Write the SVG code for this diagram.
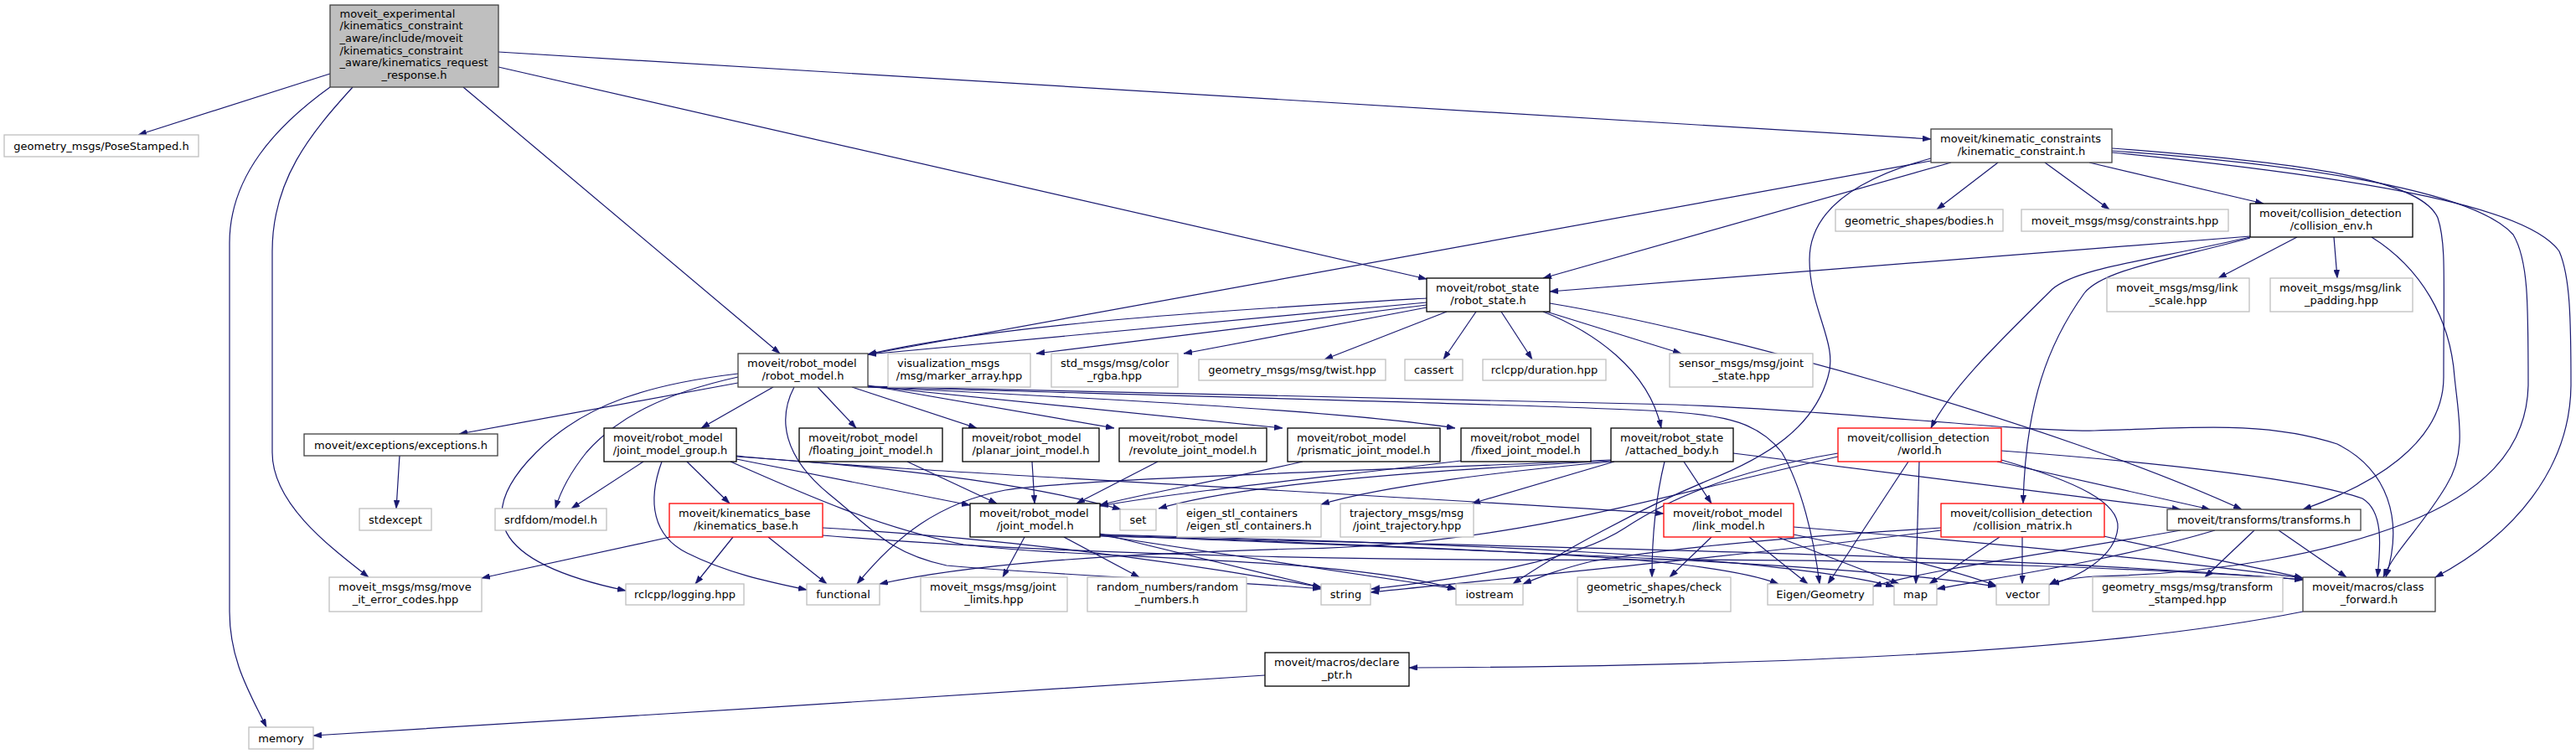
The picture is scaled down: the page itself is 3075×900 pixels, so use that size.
<svg xmlns="http://www.w3.org/2000/svg" width="3075" height="900" viewBox="0 0 3075 900">
<style>
.n rect{fill:#fff;stroke:#000;stroke-width:1.3}
.n.g rect{stroke:#bfbfbf}
.n.r rect{stroke:#ff0000}
.n.d rect{stroke:#404040}
.n.m rect{fill:#bfbfbf;stroke:#404040}
text{font-family:"DejaVu Sans","Noto Sans",sans-serif;font-size:13px;fill:#000}
.c{text-anchor:middle}
#edges path{fill:none;stroke:#191970;stroke-width:1.2;marker-end:url(#a)}
</style>
<defs>
<marker id="a" markerUnits="userSpaceOnUse" markerWidth="10" markerHeight="7" refX="10" refY="3.5" orient="auto"><path d="M0,0 L10,3.5 L0,7 z" fill="#191970" stroke="#191970" stroke-width="0.5"/></marker>
</defs>
<rect width="3075" height="900" fill="#fff"/>
<g id="edges">
<path d="M394,88 L165,161"/>
<path d="M394,104 C330,150 274,210 274,290 L274,730 C274,790 300,830 318,868"/>
<path d="M421,104 C370,160 325,215 325,300 L325,540 C325,600 390,650 440,689"/>
<path d="M553,104 L931,422"/>
<path d="M595,80 L1703,333"/>
<path d="M595,62 L2305,166"/>
<path d="M2385,194 L2312,250"/>
<path d="M2441,194 L2518,250"/>
<path d="M2494,194 L2702,243"/>
<path d="M2305,192 L1036,423"/>
<path d="M2329,194 L1842,332"/>
<path d="M2305,189 C2220,212 2160,250 2160,310 C2160,370 2195,410 2182,450 C2165,510 2110,545 2040,573 C1960,606 1860,660 1806,697"/>
<path d="M2521,177 C2760,195 2890,215 2910,260 C2920,290 2917,330 2917,450 C2917,530 2830,580 2749,608"/>
<path d="M2521,182 C2850,215 3020,250 3055,300 C3068,330 3069,380 3069,460 C3068,560 3000,640 2907,689"/>
<path d="M2521,180 C2800,200 2960,235 3000,280 C3018,310 3018,360 3018,460 C3016,540 2960,590 2870,625 C2780,660 2650,685 2500,688 C2470,690 2455,693 2446,698"/>
<path d="M2686,282 L1850,348"/>
<path d="M2742,283 L2648,332"/>
<path d="M2786,283 L2790,332"/>
<path d="M2686,283 C2560,312 2480,320 2450,345 C2400,395 2330,460 2305,511"/>
<path d="M2686,284 C2590,310 2510,322 2488,350 C2445,410 2418,480 2415,601"/>
<path d="M2831,283 C2890,320 2925,380 2930,450 C2935,500 2945,540 2920,580 C2890,630 2860,655 2845,689"/>
<path d="M1703,356 C1500,368 1200,385 1036,423"/>
<path d="M1703,361 L1036,423"/>
<path d="M1703,364 L1237,422"/>
<path d="M1703,367 L1413,422"/>
<path d="M1727,372 L1581,429"/>
<path d="M1762,372 L1723,429"/>
<path d="M1792,372 L1829,429"/>
<path d="M1842,372 C1900,395 1968,440 1983,511"/>
<path d="M1846,372 L2007,422"/>
<path d="M1850,362 C2050,395 2450,505 2676,608"/>
<path d="M881,457 L548,518"/>
<path d="M477,544 L473,607"/>
<path d="M881,446 C780,458 700,480 640,540 C570,610 580,670 747,705"/>
<path d="M881,450 C790,470 735,500 700,540 C680,565 668,590 663,607"/>
<path d="M923,462 L837,511"/>
<path d="M976,462 L1022,511"/>
<path d="M1017,462 L1166,511"/>
<path d="M1036,460 L1330,511"/>
<path d="M1036,461 L1531,511"/>
<path d="M1036,462 C1300,475 1600,490 1737,511"/>
<path d="M1036,461 C1400,470 1800,478 2000,483 C2200,490 2400,515 2500,514 C2600,512 2700,500 2790,530 C2850,560 2870,620 2848,689"/>
<path d="M1036,462 C1500,475 1900,485 2000,492 C2060,496 2100,505 2127,540 C2150,580 2165,640 2172,697"/>
<path d="M948,462 C928,500 935,545 990,590 C1040,630 1060,660 1130,675 C1300,690 1500,695 1577,703"/>
<path d="M768,551 L682,607"/>
<path d="M790,551 C772,600 780,640 820,660 C870,685 920,695 963,704"/>
<path d="M820,551 L871,601"/>
<path d="M879,548 L1158,603"/>
<path d="M879,545 C1000,553 1200,570 1338,608"/>
<path d="M879,544 C1000,558 1500,582 1986,613"/>
<path d="M872,551 C960,590 1050,630 1150,650 C1300,668 1600,664 1738,703"/>
<path d="M1083,551 L1190,601"/>
<path d="M1232,551 L1235,601"/>
<path d="M1382,551 L1285,601"/>
<path d="M1555,551 C1450,575 1360,590 1313,603"/>
<path d="M1744,550 C1600,568 1420,585 1313,604"/>
<path d="M875,641 L830,697"/>
<path d="M917,641 L987,697"/>
<path d="M800,641 L575,690"/>
<path d="M982,630 C1150,640 1350,660 1577,701"/>
<path d="M982,639 C1300,665 1700,670 2000,668 C2300,668 2600,680 2749,692"/>
<path d="M1223,641 L1197,689"/>
<path d="M1270,641 L1360,689"/>
<path d="M1313,637 L1577,701"/>
<path d="M1313,639 L1738,703"/>
<path d="M1313,638 C1600,650 1900,660 2000,673 C2060,680 2100,688 2123,697"/>
<path d="M1313,638 C1700,648 2100,660 2261,700"/>
<path d="M1313,639 C1700,655 2200,670 2383,700"/>
<path d="M1313,640 C1800,652 2400,662 2749,692"/>
<path d="M1923,549 C1700,560 1300,570 1200,585 C1120,600 1070,640 1023,697"/>
<path d="M1923,550 C1700,562 1480,578 1383,607"/>
<path d="M1923,551 C1800,562 1650,580 1577,602"/>
<path d="M1927,551 L1757,601"/>
<path d="M2010,551 L2043,601"/>
<path d="M1987,551 C1975,600 1972,650 1972,689"/>
<path d="M2069,541 L2603,608"/>
<path d="M2278,551 L2182,697"/>
<path d="M2291,551 L2287,697"/>
<path d="M2389,549 C2480,575 2530,600 2528,630 C2525,665 2480,690 2448,697"/>
<path d="M2384,551 L2638,608"/>
<path d="M2389,538 C2550,550 2750,570 2820,595 C2845,610 2842,650 2838,689"/>
<path d="M2194,541 C2080,560 2000,590 1940,630 C1880,670 1750,690 1637,703"/>
<path d="M2194,545 C1950,600 1800,650 1550,655 C1300,662 1150,675 1050,697"/>
<path d="M2043,641 L1993,689"/>
<path d="M2088,641 L2158,697"/>
<path d="M2122,641 L2267,697"/>
<path d="M2141,638 C2250,660 2330,680 2383,699"/>
<path d="M2141,629 C2400,650 2600,670 2749,690"/>
<path d="M2387,641 L2303,697"/>
<path d="M2414,641 L2414,697"/>
<path d="M2317,630 C2150,640 2000,653 1900,670 C1860,680 1840,688 1818,697"/>
<path d="M2317,633 C2150,655 1900,680 1636,707"/>
<path d="M2511,640 C2600,660 2700,678 2749,690"/>
<path d="M2603,633 C2450,660 2300,680 2236,700"/>
<path d="M2644,633 C2520,670 2380,690 2312,703"/>
<path d="M2691,633 L2632,689"/>
<path d="M2720,633 L2801,689"/>
<path d="M2749,730 C2500,780 2100,795 1682,797"/>
<path d="M1510,806 C1200,825 700,860 374,878"/>
</g>
<g id="Node0" class="n m"><rect x="394" y="6" width="201" height="98"/><text x="405.5" y="20.5">moveit_experimental</text><text x="405.5" y="35.2">/kinematics_constraint</text><text x="405.5" y="49.9">_aware/include/moveit</text><text x="405.5" y="64.6">/kinematics_constraint</text><text x="405.5" y="79.3">_aware/kinematics_request</text><text class="c" x="494.5" y="94">_response.h</text></g>
<g id="Node1" class="n g"><rect x="5" y="161" width="232" height="26"/><text class="c" x="121" y="178.5">geometry_msgs/PoseStamped.h</text></g>
<g id="Node2" class="n d"><rect x="2305" y="154" width="216" height="40"/><text x="2316" y="170">moveit/kinematic_constraints</text><text class="c" x="2413" y="185">/kinematic_constraint.h</text></g>
<g id="Node3" class="n g"><rect x="2191" y="250" width="200" height="26"/><text class="c" x="2291" y="267.5">geometric_shapes/bodies.h</text></g>
<g id="Node4" class="n g"><rect x="2413" y="250" width="247" height="26"/><text class="c" x="2536.5" y="267.5">moveit_msgs/msg/constraints.hpp</text></g>
<g id="Node5" class="n"><rect x="2686" y="243" width="194" height="40"/><text x="2697" y="259">moveit/collision_detection</text><text class="c" x="2783" y="274">/collision_env.h</text></g>
<g id="Node6" class="n g"><rect x="2515" y="332" width="170" height="40"/><text x="2526" y="348">moveit_msgs/msg/link</text><text class="c" x="2600" y="363">_scale.hpp</text></g>
<g id="Node7" class="n g"><rect x="2710" y="332" width="170" height="40"/><text x="2721" y="348">moveit_msgs/msg/link</text><text class="c" x="2795" y="363">_padding.hpp</text></g>
<g id="Node8" class="n"><rect x="1703" y="332" width="147" height="40"/><text x="1714" y="348">moveit/robot_state</text><text class="c" x="1776.5" y="363">/robot_state.h</text></g>
<g id="Node9" class="n d"><rect x="881" y="422" width="155" height="40"/><text x="892" y="438">moveit/robot_model</text><text class="c" x="958.5" y="453">/robot_model.h</text></g>
<g id="Node10" class="n g"><rect x="1060" y="422" width="170" height="40"/><text x="1071" y="438">visualization_msgs</text><text class="c" x="1145" y="453">/msg/marker_array.hpp</text></g>
<g id="Node11" class="n g"><rect x="1255" y="422" width="151" height="40"/><text x="1266" y="438">std_msgs/msg/color</text><text class="c" x="1330.5" y="453">_rgba.hpp</text></g>
<g id="Node12" class="n g"><rect x="1431" y="429" width="223" height="25"/><text class="c" x="1542.5" y="446">geometry_msgs/msg/twist.hpp</text></g>
<g id="Node13" class="n g"><rect x="1677" y="429" width="69" height="25"/><text class="c" x="1711.5" y="446">cassert</text></g>
<g id="Node14" class="n g"><rect x="1770" y="429" width="147" height="25"/><text class="c" x="1843.5" y="446">rclcpp/duration.hpp</text></g>
<g id="Node15" class="n g"><rect x="1993" y="422" width="171" height="40"/><text x="2004" y="438">sensor_msgs/msg/joint</text><text class="c" x="2078.5" y="453">_state.hpp</text></g>
<g id="Node16" class="n d"><rect x="363" y="518" width="231" height="26"/><text class="c" x="478.5" y="535.5">moveit/exceptions/exceptions.h</text></g>
<g id="Node17" class="n"><rect x="721" y="511" width="158" height="40"/><text x="732" y="527">moveit/robot_model</text><text class="c" x="800" y="542">/joint_model_group.h</text></g>
<g id="Node18" class="n"><rect x="954" y="511" width="171" height="40"/><text x="965" y="527">moveit/robot_model</text><text class="c" x="1039.5" y="542">/floating_joint_model.h</text></g>
<g id="Node19" class="n"><rect x="1149" y="511" width="163" height="40"/><text x="1160" y="527">moveit/robot_model</text><text class="c" x="1230.5" y="542">/planar_joint_model.h</text></g>
<g id="Node20" class="n"><rect x="1336" y="511" width="176" height="40"/><text x="1347" y="527">moveit/robot_model</text><text class="c" x="1424" y="542">/revolute_joint_model.h</text></g>
<g id="Node21" class="n"><rect x="1537" y="511" width="182" height="40"/><text x="1548" y="527">moveit/robot_model</text><text class="c" x="1628" y="542">/prismatic_joint_model.h</text></g>
<g id="Node22" class="n"><rect x="1744" y="511" width="155" height="40"/><text x="1755" y="527">moveit/robot_model</text><text class="c" x="1821.5" y="542">/fixed_joint_model.h</text></g>
<g id="Node23" class="n"><rect x="1923" y="511" width="146" height="40"/><text x="1934" y="527">moveit/robot_state</text><text class="c" x="1996" y="542">/attached_body.h</text></g>
<g id="Node24" class="n r"><rect x="2194" y="511" width="195" height="40"/><text x="2205" y="527">moveit/collision_detection</text><text class="c" x="2291.5" y="542">/world.h</text></g>
<g id="Node25" class="n g"><rect x="429" y="607" width="86" height="26"/><text class="c" x="472" y="624.5">stdexcept</text></g>
<g id="Node26" class="n g"><rect x="591" y="607" width="133" height="26"/><text class="c" x="657.5" y="624.5">srdfdom/model.h</text></g>
<g id="Node27" class="n r"><rect x="799" y="601" width="183" height="40"/><text x="810" y="617">moveit/kinematics_base</text><text class="c" x="890.5" y="632">/kinematics_base.h</text></g>
<g id="Node28" class="n"><rect x="1158" y="601" width="155" height="40"/><text x="1169" y="617">moveit/robot_model</text><text class="c" x="1235.5" y="632">/joint_model.h</text></g>
<g id="Node29" class="n g"><rect x="1337" y="608" width="43" height="25"/><text class="c" x="1358.5" y="625">set</text></g>
<g id="Node30" class="n g"><rect x="1405" y="601" width="172" height="40"/><text x="1416" y="617">eigen_stl_containers</text><text class="c" x="1491" y="632">/eigen_stl_containers.h</text></g>
<g id="Node31" class="n g"><rect x="1600" y="601" width="159" height="40"/><text x="1611" y="617">trajectory_msgs/msg</text><text class="c" x="1679.5" y="632">/joint_trajectory.hpp</text></g>
<g id="Node32" class="n r"><rect x="1986" y="601" width="155" height="40"/><text x="1997" y="617">moveit/robot_model</text><text class="c" x="2063.5" y="632">/link_model.h</text></g>
<g id="Node33" class="n r"><rect x="2317" y="601" width="195" height="40"/><text x="2328" y="617">moveit/collision_detection</text><text class="c" x="2414.5" y="632">/collision_matrix.h</text></g>
<g id="Node34" class="n d"><rect x="2587" y="608" width="231" height="25"/><text class="c" x="2702.5" y="625">moveit/transforms/transforms.h</text></g>
<g id="Node35" class="n g"><rect x="393" y="689" width="182" height="41"/><text x="404" y="705">moveit_msgs/msg/move</text><text class="c" x="484" y="720">_it_error_codes.hpp</text></g>
<g id="Node36" class="n g"><rect x="747" y="697" width="141" height="25"/><text class="c" x="817.5" y="714">rclcpp/logging.hpp</text></g>
<g id="Node37" class="n g"><rect x="963" y="697" width="87" height="25"/><text class="c" x="1006.5" y="714">functional</text></g>
<g id="Node38" class="n g"><rect x="1099" y="689" width="175" height="41"/><text x="1110" y="705">moveit_msgs/msg/joint</text><text class="c" x="1186.5" y="720">_limits.hpp</text></g>
<g id="Node39" class="n g"><rect x="1298" y="689" width="190" height="41"/><text x="1309" y="705">random_numbers/random</text><text class="c" x="1393" y="720">_numbers.h</text></g>
<g id="Node40" class="n g"><rect x="1577" y="697" width="59" height="25"/><text class="c" x="1606.5" y="714">string</text></g>
<g id="Node41" class="n g"><rect x="1738" y="697" width="80" height="25"/><text class="c" x="1778" y="714">iostream</text></g>
<g id="Node42" class="n g"><rect x="1883" y="689" width="183" height="41"/><text x="1894" y="705">geometric_shapes/check</text><text class="c" x="1974.5" y="720">_isometry.h</text></g>
<g id="Node43" class="n g"><rect x="2110" y="697" width="126" height="25"/><text class="c" x="2173" y="714">Eigen/Geometry</text></g>
<g id="Node44" class="n g"><rect x="2261" y="697" width="51" height="25"/><text class="c" x="2286.5" y="714">map</text></g>
<g id="Node45" class="n g"><rect x="2383" y="697" width="63" height="25"/><text class="c" x="2414.5" y="714">vector</text></g>
<g id="Node46" class="n g"><rect x="2498" y="689" width="227" height="41"/><text x="2509" y="705">geometry_msgs/msg/transform</text><text class="c" x="2611.5" y="720">_stamped.hpp</text></g>
<g id="Node47" class="n d"><rect x="2749" y="689" width="158" height="41"/><text x="2760" y="705">moveit/macros/class</text><text class="c" x="2828" y="720">_forward.h</text></g>
<g id="Node48" class="n"><rect x="1510" y="779" width="172" height="40"/><text x="1521" y="795">moveit/macros/declare</text><text class="c" x="1596" y="810">_ptr.h</text></g>
<g id="Node49" class="n g"><rect x="297" y="868" width="77" height="26"/><text class="c" x="335.5" y="885.5">memory</text></g>
</svg>
